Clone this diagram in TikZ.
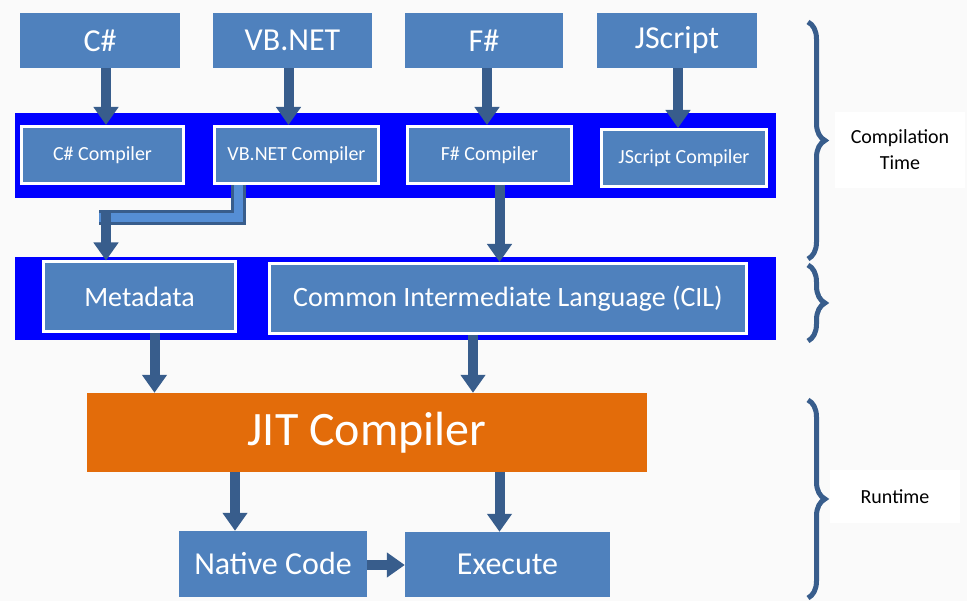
\documentclass[tikz,border=0pt]{standalone}
\usepackage{fontspec}
\setmainfont{Carlito}
\usepackage{tikz}
\usetikzlibrary{arrows.meta,positioning,decorations.pathreplacing}
\definecolor{bg}{RGB}{250,250,250}
\definecolor{boxblue}{RGB}{79,129,189}
\definecolor{bandblue}{RGB}{0,0,255}
\definecolor{jitorange}{RGB}{227,108,10}
\definecolor{arrowdark}{RGB}{56,93,140}
\definecolor{arrowlight}{RGB}{85,142,213}

\begin{document}
\begin{tikzpicture} [x=1pt, y=1pt,
  box/.style={rectangle, fill=boxblue, text=white, inner sep=2pt},
  lang/.style={box, minimum height=55pt, font=\fontsize{32}{34}\selectfont},
  comp/.style={box, draw=white, line width=3pt, minimum height=57pt, font=\fontsize{20}{22}\selectfont},
  mid/.style={box, draw=white, line width=3pt, minimum height=70pt, font=\fontsize{28}{30}\selectfont},
  band/.style={rectangle, fill=bandblue, minimum width=761pt},
  flow/.style={draw=arrowdark, line width=10pt, -{Triangle[width=24pt,length=18pt]}},
  pipe/.style={draw=arrowdark, line width=3pt, double=arrowlight, double distance=9pt},
  span/.style={draw=arrowdark, line width=5pt, decorate, decoration={brace, amplitude=17pt}},
  phase/.style={rectangle, fill=white, text=black, align=center, font=\fontsize{20}{26}\selectfont}]
\fill[bg] (0,0) rectangle (967,601);
\useasboundingbox (0,0) rectangle (967,601);

\node[lang, minimum width=160pt] (cs) at (100,560.5) {C\#};
\node[lang, minimum width=159pt] (vb) at (292.5,560.5) {VB.NET};
\node[lang, minimum width=158pt] (fs) at (484,560.5) {F\#};
\node[lang, minimum width=160pt] (js) at (677,560.5) {JScript};

\node[band, minimum height=85pt] (band1) at (395.5,445.5) {};
\node[comp, minimum width=162pt] (csc) at (102.5,446) {C\# Compiler};
\node[comp, minimum width=164pt] (vbc) at (296.5,446) {VB.NET Compiler};
\node[comp, minimum width=164pt] (fsc) at (489.5,446) {F\# Compiler};
\node[comp, minimum width=165pt] (jsc) at (684,443) {JScript Compiler};

\node[band, minimum height=83pt] (band2) at (395.5,302.5) {};
\node[mid, minimum width=192pt] (meta) at (139.5,304) {Metadata};
\node[mid, minimum width=477pt] (cil) at (508,302.5) {Common Intermediate Language (CIL)};

\node[box, minimum width=560pt, minimum height=79pt, fill=jitorange,
      font=\fontsize{48}{50}\selectfont] (jit) at (367,168.5) {JIT Compiler};
\node[box, minimum width=188pt, minimum height=66pt, font=\fontsize{32}{34}\selectfont] (native) at (273,37) {Native Code};
\node[box, minimum width=205pt, minimum height=65pt, font=\fontsize{32}{34}\selectfont] (exec) at (507.5,36.5) {Execute};

\draw[flow] ([xshift=6pt]cs.south) -- ([xshift=6pt]cs.south |- csc.north);
\draw[flow] ([xshift=-4pt]vb.south) -- ([xshift=-4pt]vb.south |- vbc.north);
\draw[flow] ([xshift=3pt]fs.south) -- ([xshift=3pt]fs.south |- fsc.north);
\draw[flow] ([xshift=1pt]js.south) -- ([xshift=1pt]js.south |- jsc.north);

\coordinate (elb) at ([xshift=-33.5pt, yshift=43pt]meta.north);
\draw[pipe] ([xshift=-58.5pt]vbc.south) |- ([xshift=-7pt]elb);
\draw[flow] ([yshift=6pt]elb) -- ([xshift=-33.5pt]meta.north);
\draw[flow] ([xshift=10pt]fsc.south) -- ([xshift=10pt]fsc.south |- cil.north);

\draw[flow] ([xshift=15pt]meta.south) -- ([xshift=15pt]meta.south |- jit.north);
\draw[flow] ([xshift=-35pt]cil.south) -- ([xshift=-35pt]cil.south |- jit.north);
\draw[flow] ([xshift=-38pt]native.north |- jit.south) -- ([xshift=-38pt]native.north);
\draw[flow] ([xshift=-8pt]exec.north |- jit.south) -- ([xshift=-8pt]exec.north);
\draw[flow] (native.east |- 0,36) -- (exec.west |- 0,36);

\draw[span] (808,579) -- (808,342);
\draw[span] (808,336) -- (808,260);
\draw[span] (808,201) -- (808,3);
\node[phase, minimum width=130pt, minimum height=76pt] (ctime) at (900,451) {Compilation\\Time};
\node[phase, minimum width=130pt, minimum height=53pt] (rtime) at (895,104) {Runtime};
\end{tikzpicture}
\end{document}
